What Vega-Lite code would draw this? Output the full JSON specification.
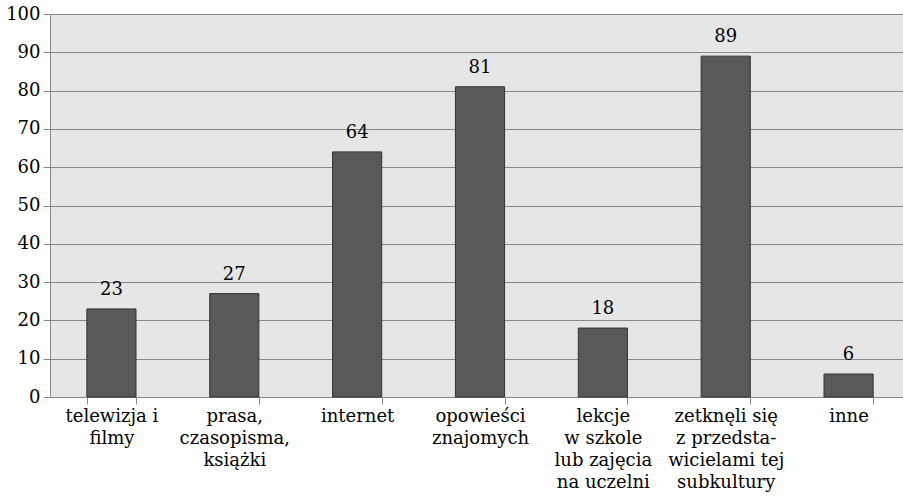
{
  "$schema": "https://vega.github.io/schema/vega-lite/v6.json",
  "autosize": {"type": "none"},
  "padding": {"left": 50, "top": 14, "right": 0, "bottom": 105},
  "width": 860,
  "height": 383,
  "background": "white",
  "config": {
    "view": {"fill": "#e6e6e6", "stroke": null},
    "font": "DejaVu Serif"
  },
  "data": {
    "values": [
      {"kat": "telewizja i|filmy", "n": 23, "o": 1},
      {"kat": "prasa,|czasopisma,|książki", "n": 27, "o": 2},
      {"kat": "internet", "n": 64, "o": 3},
      {"kat": "opowieści|znajomych", "n": 81, "o": 4},
      {"kat": "lekcje|w szkole|lub zajęcia|na uczelni", "n": 18, "o": 5},
      {"kat": "zetknęli się|z przedsta-|wicielami tej|subkultury", "n": 89, "o": 6},
      {"kat": "inne", "n": 6, "o": 7}
    ]
  },
  "encoding": {
    "x": {
      "field": "kat", "type": "nominal", "sort": {"field": "o"},
      "scale": {"paddingInner": 0.6, "paddingOuter": 0.3},
      "axis": {
        "title": null, "labelAngle": 0, "labelExpr": "split(datum.label, '|')",
        "labelFont": "DejaVu Serif", "labelFontSize": 18, "labelColor": "black",
        "labelLineHeight": 22.3, "labelPadding": 3, "labelBaseline": "top",
        "domainColor": "#888888", "tickColor": "#888888", "tickSize": 7,
        "tickBand": "extent", "labelLimit": 200
      }
    },
    "y": {
      "field": "n", "type": "quantitative",
      "scale": {"domain": [0, 100], "nice": false},
      "axis": {
        "title": null, "values": [0,10,20,30,40,50,60,70,80,90,100],
        "labelFont": "DejaVu Serif", "labelFontSize": 18, "labelColor": "black",
        "labelPadding": 3, "grid": true, "gridColor": "#888888", "gridWidth": 1,
        "domainColor": "#888888", "tickColor": "#888888", "tickSize": 7
      }
    }
  },
  "layer": [
    {"mark": {"type": "bar", "fill": "#595959", "stroke": "#333333", "strokeWidth": 1}},
    {"mark": {"type": "text", "baseline": "bottom", "dy": -10, "fontSize": 18, "color": "black", "font": "DejaVu Serif"},
     "encoding": {"text": {"field": "n", "type": "quantitative"}}}
  ]
}
